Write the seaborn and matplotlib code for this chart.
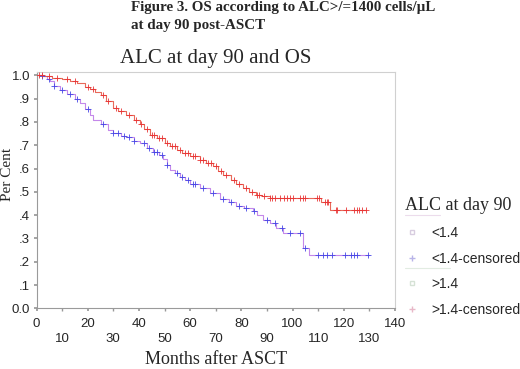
import numpy as np
import pandas as pd
import seaborn as sns
import matplotlib.pyplot as plt
from matplotlib.lines import Line2D

sns.set_theme(style="white")
plt.rcParams['font.family'] = ['Liberation Sans', 'DejaVu Sans']
serif = ['Liberation Serif', 'DejaVu Serif']

# >1.4 group: KM step points (months, survival) and censored times
hi_t = [0, 3, 6, 10, 13, 16, 19, 21, 23, 25, 27, 29.8, 32, 35, 38, 40.4, 42,
        44.3, 47, 50, 52, 55, 57, 60, 63.7, 66, 69, 71, 73, 76, 78, 80.6, 83,
        85.8, 88, 91, 111, 114.5, 128.6]
hi_s = [1.0, 0.995, 0.99, 0.983, 0.975, 0.965, 0.95, 0.94, 0.93, 0.915, 0.89,
        0.86, 0.845, 0.83, 0.81, 0.79, 0.77, 0.745, 0.73, 0.71, 0.695, 0.678,
        0.668, 0.655, 0.635, 0.625, 0.61, 0.59, 0.574, 0.55, 0.535, 0.517, 0.5,
        0.488, 0.48, 0.472, 0.455, 0.42, 0.42]
hi_cens = [1, 2, 5, 8, 12, 15, 20, 22, 26, 28, 31, 33, 36, 39, 41, 43, 45, 46,
           48, 49, 51, 53, 54, 56, 58, 59, 61, 62, 64, 65, 67, 68, 70, 72, 74,
           77, 79, 82, 84, 86, 87, 89, 91, 92, 93, 95, 96.5, 98, 99, 100, 103,
           104, 105, 109.5, 110.5, 112.5, 113.5, 114, 117, 117.5, 121, 124,
           125, 126, 127, 128.5]

# <1.4 group
lo_t = [0, 2, 4, 5.3, 7, 9.2, 12, 15, 17, 19, 21, 22, 25, 28, 30, 33, 35, 38,
        40.4, 43, 45.4, 48, 49.5, 50.8, 52, 54, 56, 58, 60, 63.7, 67.6, 71.5,
        75, 78, 81, 84.5, 86, 88.4, 91, 93.6, 96.2, 104, 106.5, 130]
lo_s = [1.0, 0.995, 0.985, 0.975, 0.955, 0.937, 0.92, 0.9, 0.88, 0.855, 0.83,
        0.81, 0.79, 0.765, 0.752, 0.74, 0.735, 0.72, 0.71, 0.69, 0.672, 0.66,
        0.64, 0.615, 0.593, 0.58, 0.565, 0.55, 0.535, 0.516, 0.495, 0.468,
        0.455, 0.44, 0.43, 0.418, 0.4, 0.38, 0.365, 0.345, 0.325, 0.258,
        0.228, 0.228]
lo_cens = [2, 5, 7, 10, 13, 16, 20, 26, 30, 32, 34, 36, 38, 42, 44, 46, 47,
           49, 51, 55, 57, 59, 61, 62, 65, 69, 73, 76, 79, 82, 85, 90, 93, 96,
           99, 103, 104.7, 110, 112, 113.5, 115.5, 120.5, 123, 124, 125, 129.5]

groups = ["<1.4", ">1.4"]
line_colors = {"<1.4": "#c488ea", ">1.4": "#e86a5a"}
mark_colors = {"<1.4": "#4646e6", ">1.4": "#e83434"}

curves = pd.concat([
    pd.DataFrame({"month": lo_t, "surv": lo_s, "group": "<1.4"}),
    pd.DataFrame({"month": hi_t, "surv": hi_s, "group": ">1.4"}),
])


def cens_frame(t, s, cens, name):
    t = np.asarray(t)
    idx = np.searchsorted(t, cens, side="right") - 1
    return pd.DataFrame({"month": cens, "surv": np.asarray(s)[idx],
                         "group": name})


cens = pd.concat([cens_frame(lo_t, lo_s, lo_cens, "<1.4"),
                  cens_frame(hi_t, hi_s, hi_cens, ">1.4")])

fig = plt.figure(figsize=(5.2, 3.69), dpi=100)
ax = fig.add_axes([36.5 / 520, 1 - 308.3 / 369, (395 - 36.5) / 520,
                   (308.3 - 72) / 369])

for g in groups:
    sns.lineplot(data=curves[curves.group == g], x="month", y="surv",
                 estimator=None, drawstyle="steps-post", color=line_colors[g],
                 linewidth=0.8, ax=ax, legend=False)
    sns.scatterplot(data=cens[cens.group == g], x="month", y="surv",
                    marker="+", s=13, color=mark_colors[g], linewidth=0.6,
                    ax=ax, legend=False, zorder=3)

ax.set_xlim(0, 140)
ax.set_ylim(0, 236.3 / 233)
ax.set_xticks(np.arange(0, 141, 20))
ax.set_xticks(np.arange(10, 131, 20), labels=[str(v) for v in range(10, 131, 20)],
              minor=True)
yt = np.round(np.arange(0, 1.01, 0.1), 1)
ax.set_yticks(yt, labels=["0.0"] + ["." + str(i) for i in range(1, 10)] + ["1.0"])
ax.tick_params(axis="x", which="major", length=2.5, pad=4.8, labelsize=9.5,
               color="#999999", bottom=True)
ax.tick_params(axis="x", which="minor", length=2.5, pad=15.5, labelsize=9.5,
               color="#999999", bottom=True)
ax.tick_params(axis="y", length=2.5, pad=2, labelsize=9.5, color="#999999",
               left=True)
for side, sp in ax.spines.items():
    sp.set_color("#9a9a9a" if side in ("left", "bottom") else "#d0d0d0")
    sp.set_linewidth(0.8)

ax.set_xlabel("Months after ASCT", family=serif, fontsize=13, labelpad=4)
ax.set_ylabel("Per Cent", family=serif, fontsize=11)
ax.yaxis.set_label_coords(-0.064, 0.568)

fig.text(215.7 / 520, 1 - 63 / 369, "ALC at day 90 and OS", family=serif,
         fontsize=15, ha="center", va="baseline")
fig.text(131 / 520, 1 - 10.5 / 369,
         "Figure 3. OS according to ALC>/=1400 cells/\u00b5L", family=serif,
         fontsize=10.8, fontweight="bold", ha="left", va="baseline")
fig.text(131 / 520, 1 - 29 / 369, "at day 90 post-ASCT", family=serif,
         fontsize=10.8, fontweight="bold", ha="left", va="baseline")

handles = [
    Line2D([], [], marker="s", linestyle="none", markersize=3.5,
           markerfacecolor="none", markeredgecolor="#d8cde0"),
    Line2D([], [], marker="+", linestyle="none", markersize=4,
           color="#b8b4e8"),
    Line2D([], [], marker="s", linestyle="none", markersize=3.5,
           markerfacecolor="none", markeredgecolor="#d6e2d6"),
    Line2D([], [], marker="+", linestyle="none", markersize=4,
           color="#e8b8c8"),
]
labels = ["<1.4", "<1.4-censored", ">1.4", ">1.4-censored"]
leg = ax.legend(handles, labels, loc="upper left",
                bbox_to_anchor=(1.027, 0.47), frameon=False, fontsize=10,
                title="ALC at day 90", alignment="left", borderaxespad=0,
                borderpad=0, handlelength=1.0, handletextpad=0.95,
                labelspacing=0.84)
leg.get_title().set_family(serif)
leg.get_title().set_fontsize(13)

fig.add_artist(Line2D([405 / 520, 440 / 520], [1 - 215 / 369, 1 - 215 / 369],
                      color="#ecdcec", linewidth=0.8))
fig.add_artist(Line2D([405 / 520, 450 / 520], [1 - 268 / 369, 1 - 268 / 369],
                      color="#e2ece2", linewidth=0.8))

fig.savefig("out.png", dpi=100)
